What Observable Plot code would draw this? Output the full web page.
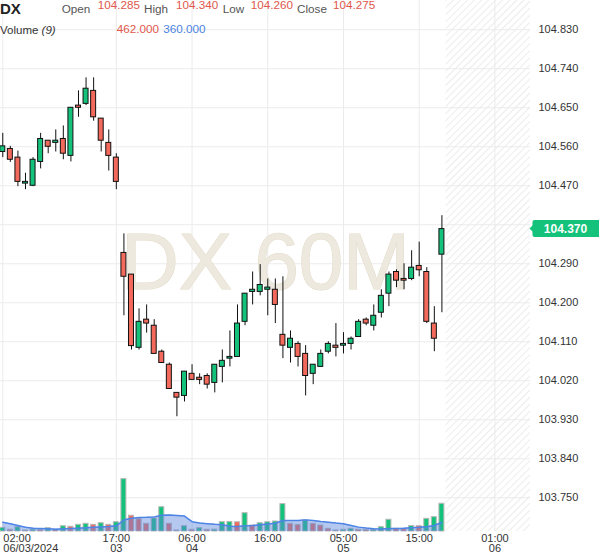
<!DOCTYPE html>
<html><head><meta charset="utf-8">
<script src="https://cdn.jsdelivr.net/npm/d3@7"></script>
<script src="https://cdn.jsdelivr.net/npm/@observablehq/plot@0.6"></script>
<style>
html,body{margin:0;padding:0;background:#fff;}
#chart{position:relative;width:599px;height:557px;overflow:hidden;font-family:"Liberation Sans",Arial,sans-serif;}
#chart svg{position:absolute;left:0;top:0;max-width:none;}
</style></head><body><div id="chart"></div>
<script>
// ---- data ----
const symbol = "DX";
const watermark = "DX 60M";
const opens  = [104.548,104.555,104.535,104.475,104.470,104.525,104.574,104.569,104.578,104.539,104.655,104.659,104.689,104.625,104.569,104.535,104.315,104.265,104.096,104.161,104.147,104.087,104.057,103.992,103.985,104.036,104.027,104.031,104.015,104.052,104.071,104.075,104.156,104.225,104.225,104.230,104.230,104.126,104.096,104.105,104.082,104.036,104.052,104.087,104.101,104.101,104.105,104.121,104.161,104.147,104.177,104.221,104.271,104.255,104.255,104.285,104.271,104.152,104.311];
const highs  = [104.591,104.561,104.550,104.499,104.535,104.591,104.574,104.599,104.608,104.650,104.689,104.719,104.719,104.625,104.599,104.544,104.359,104.265,104.186,104.195,104.161,104.091,104.061,103.992,104.041,104.057,104.036,104.036,104.057,104.091,104.135,104.195,104.221,104.271,104.288,104.255,104.255,104.260,104.135,104.110,104.101,104.057,104.091,104.110,104.152,104.131,104.121,104.161,104.165,104.195,104.230,104.271,104.276,104.290,104.320,104.340,104.281,104.191,104.401];
const lows   = [104.535,104.524,104.468,104.461,104.468,104.509,104.544,104.548,104.530,104.525,104.628,104.655,104.619,104.548,104.504,104.461,104.170,104.091,104.091,104.130,104.082,104.061,104.001,103.937,103.971,104.022,104.011,104.001,103.992,104.015,104.052,104.075,104.147,104.195,104.216,104.170,104.152,104.071,104.061,104.052,103.985,104.011,104.052,104.082,104.075,104.082,104.091,104.121,104.147,104.135,104.165,104.191,104.235,104.230,104.251,104.260,104.152,104.087,104.177];
const closes = [104.561,104.530,104.479,104.479,104.530,104.578,104.560,104.574,104.544,104.650,104.650,104.694,104.628,104.574,104.539,104.479,104.260,104.100,104.156,104.152,104.082,104.061,104.001,103.981,104.041,104.022,104.022,104.011,104.057,104.066,104.075,104.152,104.221,104.230,104.241,104.235,104.195,104.101,104.117,104.075,104.031,104.057,104.082,104.105,104.096,104.105,104.117,104.156,104.152,104.170,104.216,104.265,104.251,104.251,104.281,104.275,104.156,104.117,104.370];
const volumes = [320,150,375,90,160,140,290,150,460,410,580,670,580,720,580,810,4550,1370,1070,670,1130,2110,670,90,460,150,290,150,160,810,820,800,1590,520,720,810,870,2380,670,580,960,670,520,235,90,150,235,150,140,160,375,1020,235,230,480,462,1100,1245,2410];
const volumeMA = [810,670,520,375,290,260,230,200,230,260,290,320,375,400,435,490,1000,1150,1220,1230,1270,1420,1440,1390,1340,850,740,680,620,580,450,440,510,520,580,660,720,960,960,960,1010,960,870,810,730,670,520,380,300,240,220,260,265,280,320,360,420,520,800];
const xTickIndex = [1,16,26,36,46,56,66];
const xTickTime  = ["02:00","17:00","06:00","16:00","05:00","15:00","01:00"];
const xTickDate  = ["06/03/2024","03","04","","05","","06"];
const yTicks = [103.75,103.84,103.93,104.02,104.11,104.20,104.29,104.38,104.47,104.56,104.65,104.74,104.83];
const headerLabels = ["Open","High","Low","Close"];
const headerValues = ["104.285","104.340","104.260","104.275"];
const volumeLabel = "Volume";
const volumePeriod = "(9)";
const volumeValues = ["462.000","360.000"];

// ---- layout ----
const W = 599, H = 557;
const xDomain = [0.7, 70.7];
const yDomain = [103.6721, 104.8976];
const GREEN = "#14c27b", RED = "#f3695b";
const FONT = "'Liberation Sans', Arial, sans-serif";

const candles = opens.map((o, k) => ({
  i: k + 1, open: o, high: highs[k], low: lows[k], close: closes[k],
  volume: volumes[k], ma: volumeMA[k], prevVolume: k ? volumes[k - 1] : 0
}));
const hatchStart = candles.length + 0.55;
const xTicks = xTickIndex.map((i, k) => ({i, label: xTickDate[k] ? xTickTime[k] + "\n" + xTickDate[k] : xTickTime[k]}));

const main = Plot.plot({
  width: W, height: H,
  marginLeft: 0, marginRight: 69, marginTop: 0, marginBottom: 26,
  x: {domain: xDomain, axis: null},
  y: {domain: yDomain, axis: null, label: null},
  style: {fontFamily: FONT, background: "white", overflow: "visible"},
  marks: [
    Plot.rect([0], {x1: () => hatchStart, x2: () => xDomain[1], y1: () => yDomain[0], y2: () => yDomain[1], fill: "url(#hatch)"}),
    Plot.gridY(yTicks, {stroke: "#ebebeb", strokeOpacity: 1}),
    Plot.gridX(xTickIndex, {stroke: "#ebebeb", strokeOpacity: 1}),
    Plot.text([watermark], {text: d => d, frameAnchor: "middle", dy: -3, fontSize: 80, fill: "#eee9de", stroke: "#e2dbc9", strokeWidth: 1}),
    Plot.axisY(yTicks, {anchor: "right", tickSize: 0, tickPadding: 8, tickFormat: d => d.toFixed(3), fontSize: 11, fill: "#333", label: null}),
    Plot.ruleX(candles, {x: "i", y1: "low", y2: "high", stroke: "#111", strokeWidth: 1}),
    Plot.rect(candles, {x1: d => d.i - 0.33, x2: d => d.i + 0.33, y1: "open", y2: "close",
      fill: d => d.close >= d.open ? GREEN : RED, stroke: "#111", strokeWidth: 1}),
    Plot.text(xTicks.slice(0, 1), {x: "i", text: "label", frameAnchor: "bottom", lineAnchor: "top", textAnchor: "start", dx: 0.5, dy: 4, fontSize: 11, lineHeight: 0.88, fill: "#333"}),
    Plot.text(xTicks.slice(1), {x: "i", text: "label", frameAnchor: "bottom", lineAnchor: "top", textAnchor: "middle", dy: 4, fontSize: 11, lineHeight: 0.88, fill: "#333"})
  ]
});

const vol = Plot.plot({
  width: W, height: H,
  marginLeft: 0, marginRight: 69, marginTop: 470, marginBottom: 26,
  x: {domain: xDomain, axis: null},
  y: {domain: [0, 5300], axis: null, label: null},
  style: {background: "transparent"},
  marks: [
    Plot.rect(candles, {x1: d => d.i - 0.33, x2: d => d.i + 0.33, y1: () => 0, y2: "volume",
      fill: d => d.volume >= d.prevVolume ? GREEN : RED, stroke: "#b8b8b8", strokeWidth: 1}),
    Plot.areaY(candles, {x: "i", y: "ma", fill: "rgb(89,133,222)", fillOpacity: 0.45}),
    Plot.lineY(candles, {x: "i", y: "ma", stroke: "#4d84e6", strokeWidth: 1.5})
  ]
});

const chart = document.getElementById("chart");
chart.appendChild(main);
chart.appendChild(vol);

// hatch pattern for the future area
const svg = d3.select(main);
const pat = svg.insert("defs", ":first-child").append("pattern")
  .attr("id", "hatch").attr("patternUnits", "userSpaceOnUse")
  .attr("width", 5).attr("height", 5).attr("patternTransform", "rotate(45)");
pat.append("rect").attr("width", 5).attr("height", 5).attr("fill", "white");
pat.append("line").attr("x1", 0).attr("y1", 0).attr("x2", 0).attr("y2", 5)
  .attr("stroke", "#e3e3e3").attr("stroke-width", 1.3);

// last price badge (positioned with the plot's y scale)
const last = candles[candles.length - 1];
const yb = main.scale("y").apply(last.close);
const badge = d3.select(vol).append("g");
badge.append("path").attr("d", `M529.5,${yb}L533,${yb - 3.5}L533,${yb + 3.5}Z`).attr("fill", GREEN);
badge.append("rect").attr("x", 532.5).attr("y", yb - 8.5).attr("width", 70).attr("height", 17).attr("rx", 2).attr("fill", GREEN);
badge.append("text").attr("x", 565.5).attr("y", yb).attr("dy", "0.36em").attr("text-anchor", "middle")
  .attr("fill", "white").attr("font-weight", "bold").attr("font-size", 12).attr("font-family", FONT)
  .text(last.close.toFixed(3));

// header
const hdr = d3.select(chart).append("svg").attr("width", W).attr("height", 40)
  .style("font-family", FONT).style("overflow", "visible");
hdr.append("text").attr("x", 0).attr("y", 14).attr("font-size", 15).attr("font-weight", "bold").attr("fill", "#222").text(symbol);
const labelX = [61.7, 144, 222.7, 297];
const valueX = [97.7, 176, 250.7, 333];
headerLabels.forEach((t, k) => {
  hdr.append("text").attr("x", labelX[k]).attr("y", 13.4).attr("font-size", 11.7).attr("fill", "#555").text(t);
  hdr.append("text").attr("x", valueX[k]).attr("y", 9.3).attr("font-size", 11.7).attr("fill", "#e0584c").text(headerValues[k]);
});
const vt = hdr.append("text").attr("x", 0).attr("y", 33.5).attr("font-size", 11.5).attr("fill", "#333");
vt.append("tspan").text(volumeLabel + " ");
vt.append("tspan").attr("font-style", "italic").text(volumePeriod);
hdr.append("text").attr("x", 116.7).attr("y", 33).attr("font-size", 11.7).attr("fill", "#e0584c").text(volumeValues[0]);
hdr.append("text").attr("x", 163.3).attr("y", 33).attr("font-size", 11.7).attr("fill", "#4a83e0").text(volumeValues[1]);
</script></body></html>
